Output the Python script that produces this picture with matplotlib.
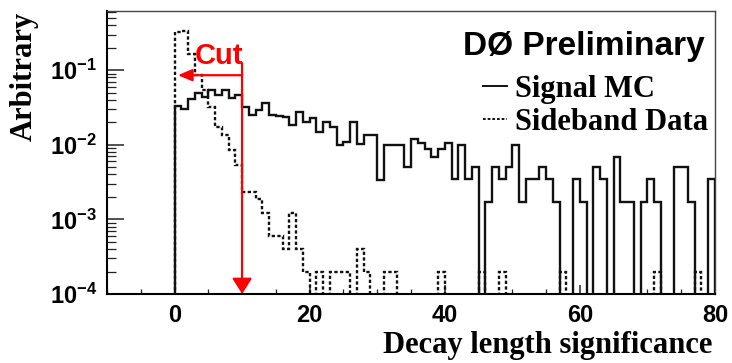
import numpy as np
import matplotlib
matplotlib.use('Agg')
import matplotlib.pyplot as plt
from matplotlib.lines import Line2D
from matplotlib.ticker import MultipleLocator, LogLocator, FuncFormatter, NullFormatter

plt.rcParams['font.family'] = 'Liberation Sans'
plt.rcParams['font.weight'] = 'bold'
plt.rcParams['mathtext.fontset'] = 'custom'
plt.rcParams['mathtext.rm'] = 'Liberation Sans:bold'
plt.rcParams['mathtext.bf'] = 'Liberation Sans:bold'
plt.rcParams['mathtext.it'] = 'Liberation Sans:bold'
plt.rcParams['mathtext.default'] = 'rm'

# bin edges: 1 unit wide bins from 0 to 80
bin_edges = np.arange(0, 81)

# Signal MC, one value per bin (0..79)
signal_mc = [
    0.033, 0.0297, 0.0405, 0.0487, 0.0437, 0.054, 0.046, 0.054, 0.042, 0.046,
    0.0316, 0.025, 0.029, 0.0365, 0.025, 0.0242, 0.0232, 0.0183, 0.0271, 0.0203,
    0.0225, 0.0149, 0.0203, 0.0174, 0.0099, 0.011, 0.0203, 0.0101, 0.0135, 0.0135,
    0.0034, 0.0099, 0.0099, 0.0099, 0.0051, 0.0118, 0.0104, 0.0089, 0.0069, 0.0087,
    0.0104, 0.0035, 0.0099, 0.0035, 0.0051, 0.0, 0.0017, 0.0051, 0.0035, 0.0051,
    0.0099, 0.0017, 0.0035, 0.0035, 0.0051, 0.0035, 0.0017, 0.0, 0.0, 0.0035,
    0.0017, 0.0, 0.0051, 0.0035, 0.0, 0.0068, 0.0017, 0.0017, 0.0, 0.0017,
    0.0035, 0.0017, 0.0, 0.0, 0.0051, 0.0051, 0.0017, 0.0, 0.0, 0.0035,
]

# Sideband data, one value per bin (0..79)
sideband = [
    0.326, 0.33, 0.167, 0.0857, 0.054, 0.0322, 0.0174, 0.0135, 0.0085, 0.0053,
    0.00235, 0.0023, 0.0019, 0.0012, 0.0006, 0.0006, 0.0004, 0.0012, 0.0004, 0.0002,
    0.0, 0.0002, 0.0, 0.0002, 0.0002, 0.0002, 0.0, 0.0004, 0.0002, 0.0,
    0.0, 0.0002, 0.0002, 0.0, 0.0, 0.0, 0.0, 0.0, 0.0, 0.0002,
    0.0, 0.0, 0.0, 0.0, 0.0, 0.0002, 0.0, 0.0, 0.0002, 0.0,
    0.0, 0.0, 0.0, 0.0, 0.0, 0.0, 0.0, 0.0002, 0.0, 0.0,
    0.0, 0.0, 0.0, 0.0, 0.0, 0.0, 0.0, 0.0, 0.0, 0.0,
    0.0, 0.0002, 0.0, 0.0, 0.0, 0.0, 0.0, 0.0002, 0.0, 0.0,
]

cut_value = 10
legend_labels = ['Signal MC', 'Sideband Data']

fig = plt.figure(figsize=(7.32, 3.63), dpi=100)
ax = fig.add_axes([107 / 732, 1 - 294 / 363, (715 - 107) / 732, (294 - 11) / 363])
ax.set_yscale('log')

dotted = (0, (1.4, 1.0))
ax.stairs(sideband, bin_edges, color='#111111', lw=1.7, linestyle=dotted, zorder=2)
ax.stairs(signal_mc, bin_edges, color='#111111', lw=1.7, zorder=3)

ax.set_xlim(-10, 80)
ax.set_ylim(1e-4, 0.62)

# ticks, ROOT style (inward, bottom/left only)
ax.xaxis.set_major_locator(MultipleLocator(20))
ax.xaxis.set_minor_locator(MultipleLocator(5))
ax.yaxis.set_major_locator(LogLocator(base=10, numticks=10))
ax.yaxis.set_minor_locator(LogLocator(base=10, subs=np.arange(2, 10), numticks=20))
ax.yaxis.set_minor_formatter(NullFormatter())
ax.yaxis.set_major_formatter(FuncFormatter(lambda v, p: r'$10^{%d}$' % round(np.log10(v))))
ax.tick_params(which='both', direction='in', top=False, right=False, color='#222222')
ax.tick_params(axis='y', which='major', length=12, width=1.1, pad=7, labelsize=17)
ax.tick_params(axis='y', which='minor', length=6.5, width=0.9)
ax.tick_params(axis='x', which='major', length=6.5, width=1.1, pad=7.5, labelsize=17)
ax.tick_params(axis='x', which='minor', length=3.5, width=0.9)

for side in ['left', 'bottom']:
    ax.spines[side].set_linewidth(1.5)
for side in ['top', 'right']:
    ax.spines[side].set_linewidth(1.0)
    ax.spines[side].set_color('#444444')

# cut arrows
ax.annotate('', xy=(cut_value, 1e-4), xytext=(cut_value, 0.124),
            arrowprops=dict(arrowstyle='-|>,head_length=0.95,head_width=0.6',
                            color='red', lw=1.6, shrinkA=0, shrinkB=0),
            zorder=5)
ax.annotate('', xy=(0.5, 0.0855), xytext=(cut_value, 0.0855),
            arrowprops=dict(arrowstyle='-|>,head_length=0.85,head_width=0.36',
                            color='red', lw=1.6, shrinkA=0, shrinkB=0),
            zorder=5)
ax.text(cut_value + 0.2, 0.12, 'Cut', color='red', fontsize=21, fontweight='bold',
        ha='right', va='baseline', zorder=6)

# legend
handles = [Line2D([], [], color='#111111', lw=1.4),
           Line2D([], [], color='#111111', lw=1.4, linestyle=dotted)]
ax.legend(handles, legend_labels, loc='upper right',
          bbox_to_anchor=(708 / 732, 1 - 75 / 363), bbox_transform=fig.transFigure,
          frameon=False, handlelength=0.8, handletextpad=0.25, labelspacing=0.12,
          borderpad=0, borderaxespad=0,
          prop=dict(family='Liberation Serif', weight='bold', size=22))

fig.text(705 / 732, 1 - 55 / 363, 'DØ Preliminary', fontsize=24, fontweight='bold',
         ha='right', va='baseline')

fig.text(24 / 732, 1 - 12 / 363, 'Arbitrary', family='Liberation Serif', fontsize=22,
         fontweight='bold', rotation=90, ha='center', va='top')
fig.text(712 / 732, 1 - 353 / 363, 'Decay length significance', family='Liberation Serif',
         fontsize=22, fontweight='bold', ha='right', va='baseline')

fig.savefig('out.png', dpi=100)
